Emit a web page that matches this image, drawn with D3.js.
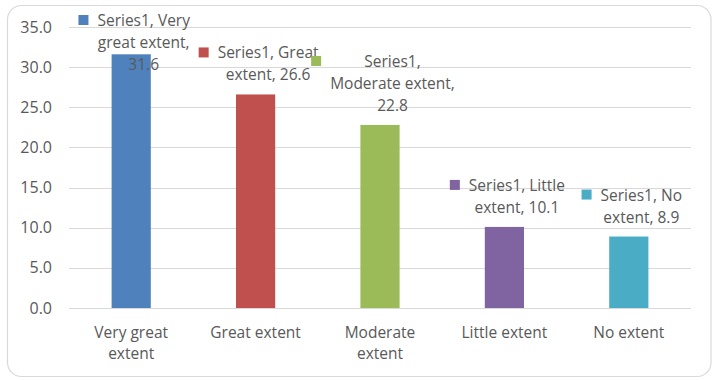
<!DOCTYPE html>
<html>
<head>
<meta charset="utf-8">
<script src="https://cdn.jsdelivr.net/npm/d3@7/dist/d3.min.js"></script>
<style>
  body { margin: 0; background: #fff; }
  text { font-family: "Open Sans", "Noto Sans", sans-serif; }
</style>
</head>
<body>
<svg id="chart" width="716" height="380"></svg>
<script>
// chart data
var categories = ["Very great extent", "Great extent", "Moderate extent", "Little extent", "No extent"];
var values = [31.6, 26.6, 22.8, 10.1, 8.9];
var seriesName = "Series1";
var colors = ["#4F81BD", "#C0504D", "#9BBB59", "#8064A2", "#4BACC6"];
var yTicks = [0, 5, 10, 15, 20, 25, 30, 35];
// words per line in each data label, as Excel wrapped them
var labelWrap = [[2, 2, 1], [2, 2], [1, 2, 1], [2, 2], [2, 2]];

var svg = d3.select("#chart"),
  W = 716, H = 380,
  margin = {left: 69, right: 25, top: 27, bottom: 72},
  fontSize = 15.5,
  lineH = 22,
  textColor = "#595959";

// outer frame
svg.append("rect")
  .attr("x", 7.5).attr("y", 5.5)
  .attr("width", 703.5).attr("height", 371)
  .attr("rx", 14).attr("ry", 14)
  .attr("fill", "#fff")
  .attr("stroke", "#d9d9d9")
  .attr("stroke-width", 1.2);

var x = d3.scaleBand()
  .domain(categories)
  .range([margin.left, W - margin.right])
  .paddingInner(0.685)
  .paddingOuter(0.3425);

var y = d3.scaleLinear()
  .domain([0, 35])
  .range([H - margin.bottom, margin.top]);

// gridlines
svg.append("g")
  .selectAll("line")
  .data(yTicks)
  .enter()
  .append("line")
  .attr("x1", margin.left).attr("x2", W - margin.right)
  .attr("y1", function(d){ return Math.round(y(d)) + 0.5; })
  .attr("y2", function(d){ return Math.round(y(d)) + 0.5; })
  .attr("stroke", "#d9d9d9")
  .attr("stroke-width", 1);

// y tick labels
svg.append("g")
  .selectAll("text")
  .data(yTicks)
  .enter()
  .append("text")
  .attr("x", 52)
  .attr("y", function(d){ return y(d); })
  .attr("dy", "0.35em")
  .attr("text-anchor", "end")
  .attr("font-size", 16)
  .attr("fill", textColor)
  .text(function(d){ return d.toFixed(1); });

// bars
svg.append("g")
  .selectAll("rect")
  .data(values)
  .enter()
  .append("rect")
  .attr("x", function(d, i){ return x(categories[i]); })
  .attr("width", x.bandwidth())
  .attr("y", function(d){ return y(d); })
  .attr("height", function(d){ return y(0) - y(d); })
  .attr("fill", function(d, i){ return colors[i]; });

// x axis labels, wrapped to a max width
function wrap(sel, maxW) {
  sel.each(function(d) {
    var t = d3.select(this), words = d.split(" "), line = [],
      tspan = t.append("tspan").attr("x", t.attr("x")).attr("dy", 0);
    words.forEach(function(w) {
      line.push(w);
      tspan.text(line.join(" "));
      if (tspan.node().getComputedTextLength() > maxW && line.length > 1) {
        line.pop();
        tspan.text(line.join(" "));
        line = [w];
        tspan = t.append("tspan").attr("x", t.attr("x")).attr("dy", 21).text(w);
      }
    });
  });
}

svg.append("g")
  .selectAll("text")
  .data(categories)
  .enter()
  .append("text")
  .attr("x", function(d){ return x(d) + x.bandwidth() / 2; })
  .attr("y", 338)
  .attr("text-anchor", "middle")
  .attr("font-size", fontSize)
  .attr("fill", textColor)
  .call(wrap, 112);

// data labels with legend key
var labels = svg.append("g");
values.forEach(function(v, i) {
  var words = (seriesName + ", " + categories[i] + ", " + v.toFixed(1)).split(" ");
  var lines = [], k = 0;
  labelWrap[i].forEach(function(n) {
    lines.push(words.slice(k, k + n).join(" "));
    k += n;
  });
  var g = labels.append("g");
  var txt = g.append("text")
    .attr("font-size", fontSize)
    .attr("fill", textColor)
    .attr("text-anchor", "middle");
  lines.forEach(function(l, j) {
    txt.append("tspan").attr("x", 0).attr("y", j * lineH).text(l);
  });
  var tw = d3.max(txt.selectAll("tspan").nodes(), function(n){ return n.getComputedTextLength(); });
  var key = 10, gap = 9;
  var blockW = key + gap + tw;
  var cx = x(categories[i]) + x.bandwidth() / 2 + 3;
  var left = cx - blockW / 2;
  txt.attr("transform", "translate(" + (left + key + gap + tw / 2) + ",0)");
  g.append("rect")
    .attr("x", left)
    .attr("y", -11)
    .attr("width", key).attr("height", key)
    .attr("fill", colors[i]);
  // first line baseline; keep the block inside the plot top
  var firstBase = y(v) - 14 - (lines.length - 1) * lineH;
  firstBase = Math.max(firstBase, 26);
  g.attr("transform", "translate(0," + firstBase + ")");
});
</script>
</body>
</html>
